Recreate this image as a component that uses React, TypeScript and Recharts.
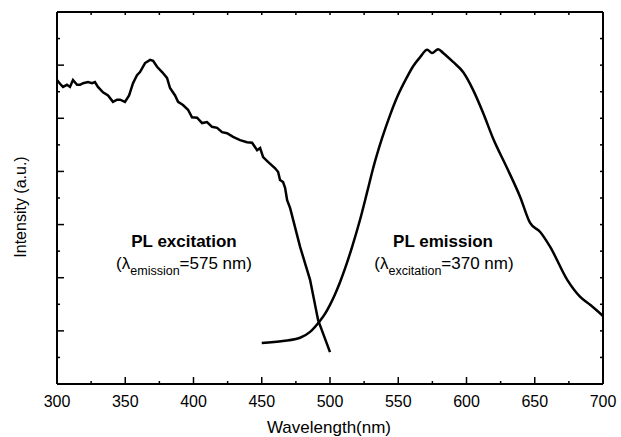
import React from 'react'
import { ComposedChart, Line, XAxis, YAxis } from 'recharts'

// PL excitation (λem = 575 nm)
const excWl = [300, 302.2, 304.4, 307.3, 309.5, 311.7, 314.7, 316.9, 319.1, 322.7, 325.7, 327.8, 330, 333.7, 337.4, 341, 344, 346.2, 349.8, 352.8, 355.7, 358.6, 360.8, 364.5, 368.2, 370.4, 373.3, 377, 380.6, 382.8, 386.5, 388.7, 392.3, 396, 398.9, 402.6, 406.3, 409.9, 413.6, 417.3, 420.9, 424.6, 429, 434.1, 439.2, 442.9, 446.6, 448.8, 451, 454.6, 459.8, 462, 463.4, 465.6, 467.1, 468.6, 470.8, 478.1, 485.4, 491.3, 500]
const excVal = [5.72, 5.65, 5.59, 5.63, 5.59, 5.72, 5.63, 5.63, 5.66, 5.68, 5.66, 5.68, 5.59, 5.49, 5.43, 5.31, 5.35, 5.35, 5.31, 5.43, 5.66, 5.81, 5.87, 6.04, 6.1, 6.08, 5.97, 5.87, 5.76, 5.57, 5.43, 5.31, 5.25, 5.16, 5.02, 5.01, 4.91, 4.93, 4.84, 4.82, 4.74, 4.72, 4.65, 4.59, 4.55, 4.54, 4.4, 4.44, 4.27, 4.18, 4.06, 3.99, 3.84, 3.8, 3.69, 3.46, 3.31, 2.58, 1.96, 1.2, 0.6]

// PL emission (λex = 370 nm)
const emWl = [450, 465.6, 478.1, 485.4, 492.7, 496.3, 500, 503.7, 507.4, 511.1, 516.2, 522, 527.2, 531.6, 538.2, 544, 549.2, 556.5, 560.9, 566, 571.2, 574.8, 579.2, 582.9, 590.2, 597.5, 604.9, 612.2, 619.5, 629.8, 639.3, 646.6, 654, 661.3, 673.8, 683.3, 690.6, 700]
const emVal = [0.77, 0.81, 0.87, 0.98, 1.19, 1.32, 1.49, 1.69, 1.92, 2.18, 2.58, 3.09, 3.61, 4.06, 4.63, 5.06, 5.4, 5.78, 5.98, 6.15, 6.29, 6.23, 6.3, 6.23, 6.06, 5.87, 5.53, 5.1, 4.62, 4.06, 3.52, 3.03, 2.86, 2.58, 1.96, 1.64, 1.49, 1.28]

const xTicks = [300, 325, 350, 375, 400, 425, 450, 475, 500, 525, 550, 575, 600, 625, 650, 675, 700]
const yTicks = [0, 0.5, 1, 1.5, 2, 2.5, 3, 3.5, 4, 4.5, 5, 5.5, 6, 6.5, 7]

const excitation = excWl.map((wl, i) => ({ wl, v: excVal[i] }))
const emission = emWl.map((wl, i) => ({ wl, v: emVal[i] }))

const font = '"Liberation Sans", Arial, sans-serif'
const axisLine = { stroke: '#000', strokeWidth: 2 }

function BottomTick({ x, y, payload }: any) {
  const v = payload.value
  const major = v % 50 === 0
  return (
    <g>
      <line x1={x} y1={y} x2={x} y2={y - (major ? 7 : 3)} stroke="#000" strokeWidth={1.5} />
      {major && (
        <text x={x} y={y + 23} textAnchor="middle" fontSize={16} fontFamily={font} fill="#000">{v}</text>
      )}
    </g>
  )
}

function TopTick({ x, y }: any) {
  return <line x1={x} y1={y} x2={x} y2={y + 3} stroke="#000" strokeWidth={1.5} />
}

function LeftTick({ x, y, payload }: any) {
  const major = Number.isInteger(payload.value)
  return <line x1={x} y1={y} x2={x + (major ? 7 : 3)} y2={y} stroke="#000" strokeWidth={1.5} />
}

function RightTick({ x, y }: any) {
  return <line x1={x} y1={y} x2={x - 3} y2={y} stroke="#000" strokeWidth={1.5} />
}

export default function App() {
  return (
    <div style={{ position: 'absolute', left: 0, top: 0, width: 621, height: 437, background: '#fff' }}>
      <ComposedChart width={621} height={437} margin={{ top: 11, right: 17, bottom: 0, left: 0 }}>
        <XAxis xAxisId="b" type="number" dataKey="wl" domain={[300, 700]} ticks={xTicks} interval={0}
          allowDataOverflow height={53} tickSize={0} tickMargin={0} tickLine={false} axisLine={axisLine}
          tick={<BottomTick />}
          label={() => (
            <text x={329} y={433} textAnchor="middle" fontSize={17} fontFamily={font} fill="#000">Wavelength(nm)</text>
          )} />
        <XAxis xAxisId="t" orientation="top" type="number" dataKey="wl" domain={[300, 700]} ticks={xTicks} interval={0}
          allowDataOverflow height={1} tickSize={0} tickMargin={0} tickLine={false} axisLine={axisLine}
          tick={<TopTick />} />
        <YAxis yAxisId="l" type="number" domain={[0, 7]} ticks={yTicks} interval={0} allowDataOverflow
          width={57} tickSize={0} tickMargin={0} tickLine={false} axisLine={axisLine} tick={<LeftTick />}
          label={() => (
            <text x={26} y={207} transform="rotate(-90 26 207)" textAnchor="middle" fontSize={16} fontFamily={font} fill="#000">Intensity (a.u.)</text>
          )} />
        <YAxis yAxisId="r" orientation="right" type="number" domain={[0, 7]} ticks={yTicks} interval={0} allowDataOverflow
          width={1} tickSize={0} tickMargin={0} tickLine={false} axisLine={axisLine} tick={<RightTick />} />
        <Line xAxisId="b" yAxisId="l" data={excitation} dataKey="v" type="linear" stroke="#000" strokeWidth={2.5}
          dot={false} isAnimationActive={false} />
        <Line xAxisId="b" yAxisId="l" data={emission} dataKey="v" type="monotone" stroke="#000" strokeWidth={2.5}
          dot={false} isAnimationActive={false} />
      </ComposedChart>
      <svg width={621} height={437} style={{ position: 'absolute', left: 0, top: 0, pointerEvents: 'none' }}
        fontFamily={font} fill="#000">
        <text x={184} y={247} textAnchor="middle" fontSize={17} fontWeight="bold">PL excitation</text>
        <text x={184} y={269} textAnchor="middle" fontSize={17}>
          (λ<tspan fontSize={12.5} dy={5.5}>emission</tspan><tspan dy={-5.5}>=575 nm)</tspan>
        </text>
        <text x={443} y={247} textAnchor="middle" fontSize={17} fontWeight="bold">PL emission</text>
        <text x={444} y={269} textAnchor="middle" fontSize={17}>
          (λ<tspan fontSize={12.5} dy={5.5}>excitation</tspan><tspan dy={-5.5}>=370 nm)</tspan>
        </text>
      </svg>
    </div>
  )
}
